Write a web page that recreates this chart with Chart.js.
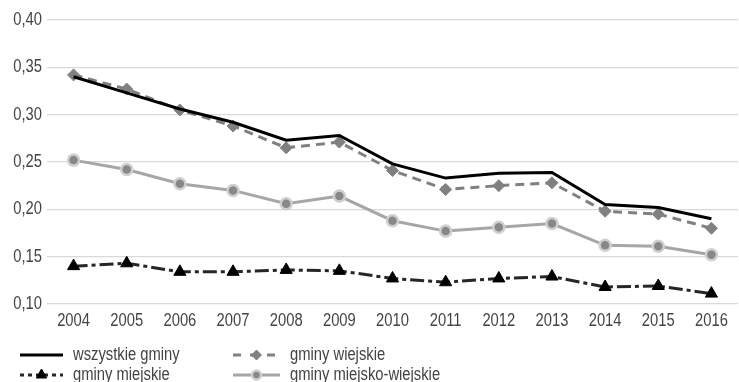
<!DOCTYPE html>
<html>
<head>
<meta charset="utf-8">
<script src="https://cdn.jsdelivr.net/npm/chart.js@4/dist/chart.umd.min.js"></script>
<style>
  html, body { margin: 0; padding: 0; background: #fff; overflow: hidden; }
  #wrap { width: 746px; height: 382px; }
</style>
</head>
<body>
<div id="wrap"><canvas id="c"></canvas></div>
<script>
const years = ['2004','2005','2006','2007','2008','2009','2010','2011','2012','2013','2014','2015','2016'];
const wszystkieGminy = [0.340, 0.323, 0.306, 0.292, 0.273, 0.278, 0.248, 0.233, 0.238, 0.239, 0.205, 0.202, 0.190];
const gminyWiejskie = [0.342, 0.327, 0.305, 0.288, 0.265, 0.271, 0.241, 0.221, 0.225, 0.228, 0.198, 0.195, 0.180];
const gminyMiejskie = [0.140, 0.143, 0.134, 0.134, 0.136, 0.135, 0.127, 0.123, 0.127, 0.129, 0.118, 0.119, 0.111];
const gminyMiejskoWiejskie = [0.252, 0.242, 0.227, 0.220, 0.206, 0.214, 0.188, 0.177, 0.181, 0.185, 0.162, 0.161, 0.152];
const yTicks = [0.10, 0.15, 0.20, 0.25, 0.30, 0.35, 0.40];

const TEXT = '#444444';
const SIZE = 18;

// Use a narrow face when one is installed, otherwise squeeze the regular one
const probe = document.createElement('canvas').getContext('2d');
function hasFont(name) {
  const s = 'wszystkie gminy 2004 0,40';
  probe.font = SIZE + 'px monospace';
  const a = probe.measureText(s).width;
  probe.font = SIZE + 'px "' + name + '", monospace';
  return probe.measureText(s).width !== a;
}
let FONT, SQUEEZE;
if (hasFont('Liberation Sans Narrow')) { FONT = '"Liberation Sans Narrow"'; SQUEEZE = 1; }
else if (hasFont('Arial Narrow')) { FONT = '"Arial Narrow"'; SQUEEZE = 1; }
else { FONT = '"Liberation Sans", Arial, sans-serif'; SQUEEZE = 0.82; }

function label(ctx, text, x, y, align) {
  ctx.save();
  ctx.font = SIZE + 'px ' + FONT;
  ctx.fillStyle = TEXT;
  ctx.textBaseline = 'middle';
  ctx.textAlign = align;
  ctx.translate(x, y);
  ctx.scale(SQUEEZE, 1);
  ctx.fillText(text, 0, 0);
  ctx.restore();
}

// Axis labels, placed from the chart's own scales
const axisLabels = {
  id: 'axisLabels',
  afterDraw(chart) {
    const ctx = chart.ctx;
    const xs = chart.scales.x, ys = chart.scales.y;
    xs.ticks.forEach((t, i) => {
      label(ctx, chart.data.labels[i], xs.getPixelForTick(i), ys.bottom + 17, 'center');
    });
    ys.ticks.forEach(t => {
      label(ctx, t.value.toFixed(2).replace('.', ','), ys.right - 5, ys.getPixelForValue(t.value), 'right');
    });
  }
};

// Two-column legend under the axis, each entry with its own line sample
const legendPlugin = {
  id: 'bottomLegend',
  afterDraw(chart) {
    const ctx = chart.ctx;
    const slots = [
      { ds: 0, x: 20, y: 355, len: 43 },
      { ds: 1, x: 233, y: 355, len: 47 },
      { ds: 2, x: 20, y: 375, len: 43 },
      { ds: 3, x: 233, y: 375, len: 47 }
    ];
    slots.forEach(s => {
      const d = chart.data.datasets[s.ds];
      ctx.save();
      ctx.strokeStyle = d.borderColor;
      ctx.lineWidth = d.borderWidth;
      ctx.setLineDash(d.legendDash || d.borderDash || []);
      ctx.beginPath();
      ctx.moveTo(s.x, s.y);
      ctx.lineTo(s.x + s.len, s.y);
      ctx.stroke();
      ctx.setLineDash([]);
      if (d.pointRadius > 0) {
        ctx.fillStyle = d.pointBackgroundColor;
        ctx.strokeStyle = d.pointBorderColor;
        ctx.lineWidth = d.pointBorderWidth;
        Chart.helpers.drawPoint(ctx, {
          pointStyle: d.pointStyle,
          radius: d.pointRadius - 1,
          borderWidth: d.pointBorderWidth
        }, s.x + s.len / 2, s.y);
      }
      ctx.restore();
      label(ctx, d.label, s.x + s.len + 10, s.y, 'left');
    });
  }
};

new Chart(document.getElementById('c'), {
  type: 'line',
  data: {
    labels: years,
    datasets: [
      {
        label: 'wszystkie gminy',
        data: wszystkieGminy,
        borderColor: '#000000',
        borderWidth: 3,
        pointRadius: 0,
        pointHoverRadius: 0,
        order: 0
      },
      {
        label: 'gminy wiejskie',
        data: gminyWiejskie,
        borderColor: '#808080',
        borderWidth: 3,
        borderDash: [9, 6],
        legendDash: [8, 9],
        pointStyle: 'rectRot',
        pointRadius: 6,
        pointBorderWidth: 1,
        pointBackgroundColor: '#808080',
        pointBorderColor: '#808080',
        order: 1
      },
      {
        label: 'gminy miejskie',
        data: gminyMiejskie,
        borderColor: '#262626',
        borderWidth: 3,
        borderDash: [14, 4, 4, 4],
        legendDash: [4, 4],
        pointStyle: 'triangle',
        pointRadius: 7,
        pointBorderWidth: 1,
        pointBackgroundColor: '#000000',
        pointBorderColor: '#000000',
        order: 2
      },
      {
        label: 'gminy miejsko-wiejskie',
        data: gminyMiejskoWiejskie,
        borderColor: '#a6a6a6',
        borderWidth: 3,
        pointStyle: 'circle',
        pointRadius: 5.5,
        pointBorderWidth: 2.5,
        pointBackgroundColor: '#888888',
        pointBorderColor: '#cfcfcf',
        order: 3
      }
    ]
  },
  options: {
    responsive: true,
    maintainAspectRatio: false,
    animation: false,
    layout: { padding: { top: 20, left: 0, right: 0, bottom: 52 } },
    plugins: { legend: { display: false }, tooltip: { enabled: false } },
    elements: { line: { tension: 0 } },
    scales: {
      x: {
        offset: true,
        grid: { display: false },
        border: { display: false },
        ticks: { display: false },
        afterFit(scale) { scale.height = 26; }
      },
      y: {
        min: 0.10,
        max: 0.40,
        afterBuildTicks(scale) { scale.ticks = yTicks.map(v => ({ value: v })); },
        grid: { color: '#d9d9d9', lineWidth: 1.2, drawTicks: false },
        border: { display: false },
        ticks: { display: false },
        afterFit(scale) { scale.width = 47; }
      }
    }
  },
  plugins: [axisLabels, legendPlugin]
});
</script>
</body>
</html>
